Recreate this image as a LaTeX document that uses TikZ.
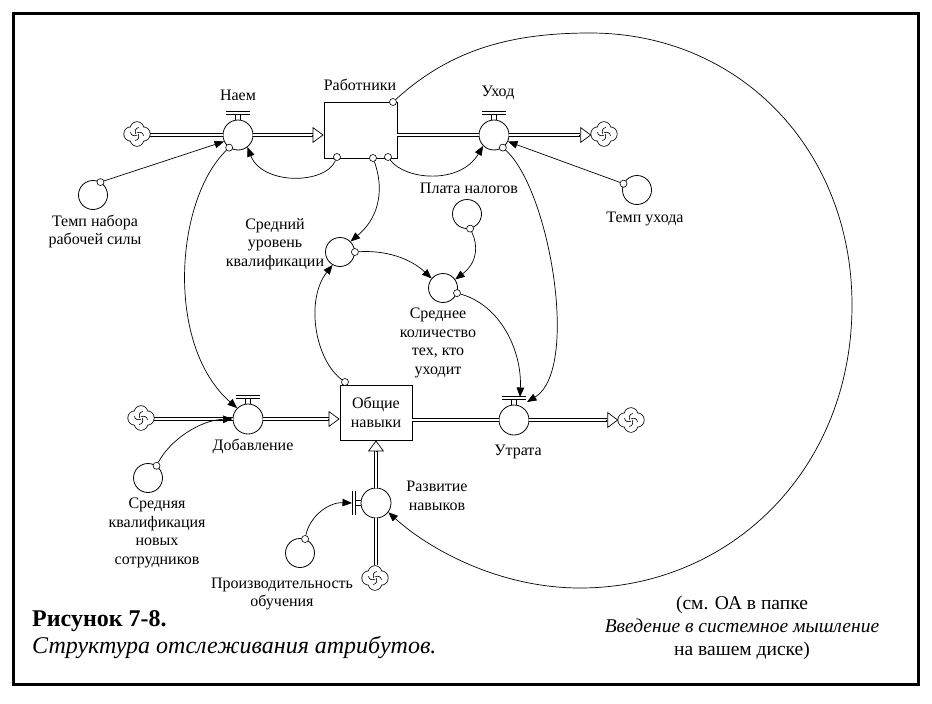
\documentclass[tikz,border=0pt]{standalone}
\usepackage{fontspec}
\setmainfont{Liberation Serif}
\usetikzlibrary{arrows.meta,calc}
\newcommand\lblf{\fontsize{16}{18.5}\selectfont}
\newcommand\vbar[1]{%
  \draw[line width=0.6pt] ([shift={(-12,-24)}]#1.center) -- ++(24,0)
        ([shift={(-12,-21)}]#1.center) -- ++(24,0)
        ([shift={(-2.5,-21)}]#1.center) -- ([shift={(-2.5,-14.6)}]#1.center)
        ([shift={(2.5,-21)}]#1.center) -- ([shift={(2.5,-14.6)}]#1.center);}
\newcommand\vbarleft[1]{%
  \draw[line width=0.6pt] ([shift={(-24,-12)}]#1.center) -- ++(0,24)
        ([shift={(-21,-12)}]#1.center) -- ++(0,24)
        ([shift={(-21,-2.5)}]#1.center) -- ([shift={(-14.6,-2.5)}]#1.center)
        ([shift={(-21,2.5)}]#1.center) -- ([shift={(-14.6,2.5)}]#1.center);}
\newcommand\cloudat[1]{%
  \draw[line width=1.5pt] ([shift={(6,0)}]#1.center) circle (6.8)
     ([shift={(-6,0)}]#1.center) circle (6.8)
     ([shift={(0,5.5)}]#1.center) circle (6.4)
     ([shift={(0,-5.5)}]#1.center) circle (6.4);
  \fill[white] ([shift={(6,0)}]#1.center) circle (6.8)
     ([shift={(-6,0)}]#1.center) circle (6.8)
     ([shift={(0,5.5)}]#1.center) circle (6.4)
     ([shift={(0,-5.5)}]#1.center) circle (6.4);
  \foreach \a in {0,90,180,270}{%
    \draw[line width=0.6pt, shift={(#1.center)}, rotate=\a]
      (0,-1.2) .. controls (3,-2.5) and (6,-1.5) .. (6.5,1.8);}}
\begin{document}
\begin{tikzpicture}[x=1pt,y=-1pt,
  stock/.style={draw, line width=0.8pt, minimum width=73pt, minimum height=56pt, inner sep=0, align=center, font=\lblf, fill=white},
  valve/.style={circle, draw, line width=0.8pt, minimum size=30pt, inner sep=0, fill=white},
  aux/.style={circle, draw, line width=0.8pt, minimum size=29pt, inner sep=0, fill=white},
  knob/.style={circle, draw, line width=0.6pt, minimum size=7pt, inner sep=0, fill=white},
  cloudsym/.style={circle, minimum size=25pt, inner sep=0},
  lbl/.style={font=\lblf, align=center, inner sep=0},
  pipe/.style={draw, line width=0.6pt, double=white, double distance=2.6pt},
  ptip/.style={line width=0.7pt, -{Triangle[open, length=11pt, width=16pt, fill=white]}},
  conn/.style={line width=0.7pt, -{Triangle[length=9.5pt, width=7.5pt]}}]
\useasboundingbox (0,0) rectangle (932,704);
\draw[line width=3pt] (13,13) rectangle (918,684);

% stocks
\node[stock] (wk) at (360.5,130) {};
\node[lbl] (wkl) at (360,85) {Работники};
\node[stock, minimum width=72pt, minimum height=55pt] (on) at (376,412.5) {Общие\\навыки};

% valves
\node[valve] (naem) at (238,135) {};
\node[valve] (ux) at (494,135) {};
\node[valve] (dob) at (248,419) {};
\node[valve] (ut) at (514,420) {};
\node[valve] (razv) at (376,503) {};
\vbar{naem}\vbar{ux}\vbar{dob}\vbar{ut}\vbarleft{razv}

% cloud placeholders
\node[cloudsym] (c1) at (137,134) {};
\node[cloudsym] (c2) at (604,134) {};
\node[cloudsym] (c3) at (141,418) {};
\node[cloudsym] (c4) at (631,420) {};
\node[cloudsym] (c5) at (375,578) {};

% pipes
\draw[pipe] (c1.east |- naem) -- (naem);
\draw[pipe, shorten >=11pt] (naem) -- (naem -| wk.west);
\draw[ptip] ($(naem -| wk.west)+(-12,0)$) -- (naem -| wk.west);
\draw[pipe] (wk.east |- ux) -- (ux);
\draw[pipe, shorten >=11pt] (ux) -- (ux -| c2.west);
\draw[ptip] ($(ux -| c2.west)+(-12,0)$) -- (ux -| c2.west);
\draw[pipe] (c3.east |- dob) -- (dob);
\draw[pipe, shorten >=11pt] (dob) -- (dob -| on.west);
\draw[ptip] ($(dob -| on.west)+(-12,0)$) -- (dob -| on.west);
\draw[pipe] (on.east |- ut) -- (ut);
\draw[pipe, shorten >=11pt] (ut) -- (ut -| c4.west);
\draw[ptip] ($(ut -| c4.west)+(-12,0)$) -- (ut -| c4.west);
\draw[pipe] (razv |- c5.north) -- (razv);
\draw[pipe, shorten >=11pt] (razv) -- (razv |- on.south);
\draw[ptip] ($(razv |- on.south)+(0,12)$) -- (razv |- on.south);

% clouds
\cloudat{c1}\cloudat{c2}\cloudat{c3}\cloudat{c4}\cloudat{c5}

% auxiliaries
\node[aux] (temp1) at (93,195) {};
\node[aux] (sred) at (340,252) {};
\node[aux] (plata) at (467,214) {};
\node[aux] (sk) at (443,288) {};
\node[aux] (tempu) at (637,190) {};
\node[aux] (srk) at (148,478) {};
\node[aux] (po) at (300,553) {};

% knobs
\node[knob] (kw1) at (337,157) {};
\node[knob] (kw2) at (373,158) {};
\node[knob] (kw3) at (388,157) {};
\node[knob] (kw4) at (393,102) {};
\node[knob] (kt1) at (temp1.60) {};
\node[knob] (kn) at (naem.235) {};
\node[knob] (kux) at (ux.-55) {};
\node[knob] (ktu) at (tempu.155) {};
\node[knob] (ksred) at (sred.east) {};
\node[knob] (kpl) at (plata.-78) {};
\node[knob] (ksk) at (sk.-20) {};
\node[knob] (kon) at (345,382) {};
\node[knob] (ksrk) at (srk.55) {};
\node[knob] (kpo) at (po.70) {};

\coordinate (utin1) at ($(ut.center)+(6,-23)$);
\coordinate (utin2) at ($(ut.center)+(13,-18)$);
\coordinate (razvin) at ($(razv.center)+(-24,0)$);

% connectors
\draw[conn] (kw1) .. controls (325,185) and (262,185) .. (naem.-52);
\draw[conn] (kt1) -- (naem.205);
\draw[conn] (kn) .. controls (175,200) and (165,345) .. (dob.135);
\draw[conn] (kw2) .. controls (383,185) and (382,215) .. (sred.45);
\draw[conn] (kw3) .. controls (405,180) and (460,185) .. (ux.225);
\draw[conn] (kux) .. controls (550,190) and (580,370) .. (utin2);
\draw[conn] (ktu) -- (ux.-25);
\draw[conn] (ksred) .. controls (385,250) and (410,258) .. (sk.140);
\draw[conn] (kpl) .. controls (478,245) and (478,262) .. (sk.35);
\draw[conn] (ksk) .. controls (500,305) and (522,350) .. (utin1);
\draw[conn] (kon) .. controls (315,360) and (305,300) .. (sred.240);
\draw[conn] (ksrk) .. controls (170,440) and (200,420) .. (dob.west);
\draw[conn] (kpo) .. controls (310,515) and (330,502) .. (razvin);
\draw[conn] (kw4) .. controls (450,50) and (510,33) .. (590,33)
   .. controls (740,33) and (852,150) .. (852,305)
   .. controls (852,470) and (730,588) .. (580,588)
   .. controls (500,588) and (430,550) .. (razv.-37);

% labels
\node[lbl] (lnaem) at (238,95) {Наем};
\node[lbl] (lux) at (498,93) {Уход};
\node[lbl] (ltemp1) at (95,231.5) {Темп набора\\рабочей силы};
\node[lbl] (lsred) at (275,244) {Средний\\уровень\\квалификации};
\node[lbl] (lplata) at (469,188) {Плата налогов};
\node[lbl] (ltempu) at (645,219) {Темп ухода};
\node[lbl] (lsk) at (438,343) {Среднее\\количество\\тех, кто\\уходит};
\node[lbl] (ldob) at (253,446) {Добавление};
\node[lbl] (lut) at (518,452) {Утрата};
\node[lbl] (lsrk) at (157,533) {Средняя\\квалификация\\новых\\сотрудников};
\node[lbl] (lrazv) at (437,496) {Развитие\\навыков};
\node[lbl] (lpo) at (282,594) {Производительность\\обучения};

% caption
\node[anchor=base west, inner sep=0, font=\fontsize{24}{28}\selectfont\bfseries] (cap1) at (32,626) {Рисунок 7-8.};
\node[anchor=base west, inner sep=0, font=\fontsize{24}{28}\selectfont\itshape] (cap2) at (32,653) {Структура отслеживания атрибутов.};
\node[anchor=base, inner sep=0, font=\fontsize{19.5}{23}\selectfont] (n1) at (742,609) {(см. ОА в папке};
\node[anchor=base, inner sep=0, font=\fontsize{19.5}{23}\selectfont\itshape] (n2) at (742,632) {Введение в системное мышление};
\node[anchor=base, inner sep=0, font=\fontsize{19.5}{23}\selectfont] (n3) at (742,655) {на вашем диске)};
\end{tikzpicture}
\end{document}
